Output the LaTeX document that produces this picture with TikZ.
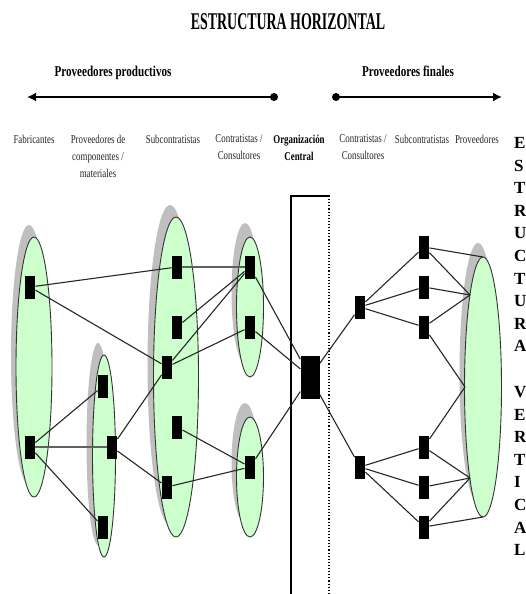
\documentclass[tikz,border=0pt]{standalone}
\usepackage{fontspec}
\setmainfont{Liberation Serif}
\newfontfamily\titlef[FakeStretch=0.58]{Liberation Serif}
\newfontfamily\condf[FakeStretch=0.74]{Liberation Serif}
\usetikzlibrary{shapes.geometric,arrows.meta}
\definecolor{grpgreen}{RGB}{204,255,204}
\begin{document}
\begin{tikzpicture}[x=1pt,y=-1pt,
  box/.style={rectangle,fill=black,draw=none,minimum width=10.5pt,minimum height=23pt,inner sep=0pt},
  grp/.style={ellipse,draw=black!80,line width=0.9pt,fill=grpgreen,inner sep=0pt},
  shd/.style={ellipse,fill=gray!50,draw=none,inner sep=0pt},
  link/.style={draw=black!85,line width=1.1pt},
  hlink/.style={draw=gray!75!black,line width=2pt},
  lbl/.style={font=\condf\fontsize{12}{17}\selectfont,text=black!85,align=center,anchor=north,inner sep=0pt},
  hdr/.style={font=\condf\bfseries\fontsize{15}{18}\selectfont,anchor=base,inner sep=0pt},
  vl/.style={font=\rmfamily\bfseries\fontsize{17}{17}\selectfont,anchor=base west,inner sep=0pt},
  dot/.style={circle,fill=black,inner sep=0pt,minimum size=8pt},
  arr/.style={line width=2.2pt,-{Latex[length=9pt,width=9pt]}}
]
\useasboundingbox (0,0) rectangle (525,594);
\clip (0,0) rectangle (525,594);

% titles
\node[font=\titlef\bfseries\fontsize{24}{24}\selectfont,anchor=base,inner sep=0pt] (title) at (288,30) {ESTRUCTURA HORIZONTAL};
\node[hdr] (hpp) at (113,76) {Proveedores productivos};
\node[hdr] (hpf) at (408,76) {Proveedores finales};

% arrows
\node[dot] (dL) at (274,97) {};
\coordinate (aL) at (27,97);
\draw[arr] (dL.center) -- (aL);
\node[dot] (dR) at (336,97) {};
\coordinate (aR) at (502,97);
\draw[arr] (dR.center) -- (aR);

% column labels
\node[lbl] (l1) at (34,134.5) {Fabricantes};
\node[lbl] (l2) at (98,134.5) {Proveedores de\\componentes /\\materiales};
\node[lbl] (l3) at (173,134.5) {Subcontratistas};
\node[lbl] (l4) at (239,134.5) {Contratistas /\\Consultores};
\node[lbl,font=\condf\bfseries\fontsize{12}{17}\selectfont,text=black] (l5) at (299,134.5) {Organización\\Central};
\node[lbl] (l6) at (363,134.5) {Contratistas /\\Consultores};
\node[lbl] (l7) at (422,134.5) {Subcontratistas};
\node[lbl] (l8) at (477,134.5) {Proveedores};

% vertical letters
\foreach \l [count=\i from 0] in {E,S,T,R,U,C,T,U,R,A}
  \node[vl] (v\i) at (514,148.5+22.6*\i) {\l};
\foreach \l [count=\i from 0] in {V,E,R,T,I,C,A,L}
  \node[vl] (w\i) at (514,397.5+22.6*\i) {\l};

% central column
\coordinate (cTL) at (291,196);
\coordinate (cTR) at (329,196);
\coordinate (cBL) at (291,600);
\coordinate (cBR) at (329,600);
\draw[line width=1.4pt] (cBL) -- (cTL);
\draw[dotted,line width=1.1pt] (cTR) -- (cBR);
\draw[line width=2.4pt] ([xshift=-0.7pt]cTL) -- ([xshift=0.5pt]cTR);

% shadows
\node[shd,minimum width=36pt,minimum height=260pt] (s1) at (29,355) {};
\node[shd,minimum width=23pt,minimum height=202pt] (s2) at (98,444) {};
\node[shd,minimum width=45pt,minimum height=320pt] (s3) at (170,365) {};
\node[shd,minimum width=27pt,minimum height=140pt] (s4) at (245,293) {};
\node[shd,minimum width=27pt,minimum height=120pt] (s5) at (245,463) {};
\node[shd,minimum width=37pt,minimum height=260pt] (s6) at (478,373) {};

% groups
\node[grp,minimum width=36pt,minimum height=260pt] (E1) at (34,367) {};
\node[grp,minimum width=23pt,minimum height=202pt] (E2) at (104,456) {};
\node[grp,minimum width=45pt,minimum height=320pt] (E3) at (176,377) {};
\node[grp,minimum width=27pt,minimum height=140pt] (E4) at (250,307) {};
\node[grp,minimum width=27pt,minimum height=120pt] (E5) at (250,477) {};
\node[grp,minimum width=37pt,minimum height=260pt] (E6) at (483,387) {};

\coordinate (e6t) at (483,257);
\coordinate (e6a) at (470,295);
\coordinate (e6m) at (465,387);
\coordinate (e6b) at (470,478);
\coordinate (e6u) at (483,517);

% boxes
\node[box] (F1) at (30,287) {};
\node[box] (F2) at (30,447) {};
\node[box] (P1) at (103,386) {};
\node[box] (P2) at (112,447) {};
\node[box] (P3) at (103,527) {};
\node[box] (S1) at (177,267) {};
\node[box] (S2) at (177,327) {};
\node[box] (S3) at (167,367) {};
\node[box] (S4) at (177,427) {};
\node[box] (S5) at (167,487) {};
\node[box] (C1) at (250,267) {};
\node[box] (C2) at (250,327) {};
\node[box] (C3) at (250,467) {};
\node[box,minimum width=19pt,minimum height=43pt] (OC) at (310,377) {};
\node[box] (R1) at (360,307) {};
\node[box] (R2) at (360,467) {};
\node[box] (T1) at (424,247) {};
\node[box] (T2) at (424,287) {};
\node[box] (T3) at (424,327) {};
\node[box] (T4) at (424,447) {};
\node[box] (T5) at (424,487) {};
\node[box] (T6) at (424,527) {};

% links
\draw[hlink] (F2) -- (P2);
\draw[hlink] (S1) -- (C1);
\draw[link] (F1) -- (S1);
\draw[link] (F1) -- (S3);
\draw[link] (F2) -- (P1);
\draw[link] (F2) -- (P3);
\draw[link] (P2) -- (S3);
\draw[link] (P2) -- (S5);
\draw[link] (S2) -- (C1);
\draw[link] (S3) -- (C1);
\draw[link] (S3) -- (C2);
\draw[link] (S4) -- (C3);
\draw[link] (S5) -- (C3);
\draw[link] (C1) -- (OC);
\draw[link] (C2) -- (OC);
\draw[link] (C3) -- (OC);
\draw[link] (OC) -- (R1);
\draw[link] (OC) -- (R2);
\draw[link] (R1) -- (T1);
\draw[link] (R1) -- (T2);
\draw[link] (R1) -- (T3);
\draw[link] (R2) -- (T4);
\draw[link] (R2) -- (T5);
\draw[link] (R2) -- (T6);
\draw[link] (T1) -- (e6t);
\draw[link] (T1) -- (e6a);
\draw[link] (T2) -- (e6a);
\draw[link] (T3) -- (e6a);
\draw[link] (T3) -- (e6m);
\draw[link] (T4) -- (e6m);
\draw[link] (T4) -- (e6b);
\draw[link] (T5) -- (e6b);
\draw[link] (T6) -- (e6b);
\draw[link] (T6) -- (e6u);
\end{tikzpicture}
\end{document}
